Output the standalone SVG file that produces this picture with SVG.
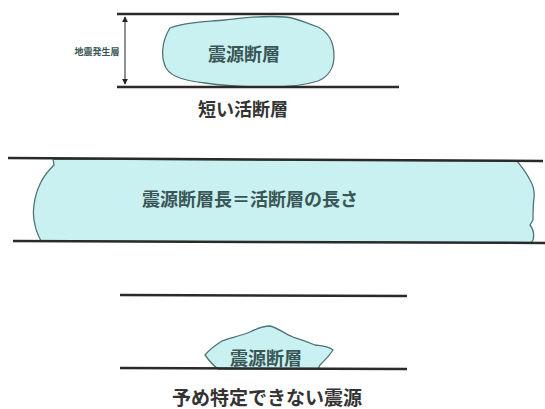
<svg xmlns="http://www.w3.org/2000/svg" width="545" height="409" viewBox="0 0 545 409">
<defs>
<style>
.layer{stroke:#2a2a2a;stroke-width:2.5;fill:none}
.blob{fill:#c9f1f1;stroke:#4f7474;stroke-width:1.3;stroke-linejoin:round}
.t{font-family:"Noto Sans CJK JP","Noto Sans CJK SC",sans-serif;font-weight:bold;text-anchor:middle;dominant-baseline:central}
.in{fill:#3a5656}
.cap{fill:#333}
</style>
<marker id="ah" viewBox="0 0 8 8" refX="7" refY="4" markerWidth="6" markerHeight="6" orient="auto-start-reverse">
<path d="M0,0 L8,4 L0,8 z" fill="#222"/>
</marker>
</defs>
<rect width="545" height="409" fill="#fff"/>

<g id="short-fault">
<path class="blob" d="M170,28 C185,22 205,22 225,20 C245,18 260,15 285,17 C298,18 305,23 318,27 C330,33 334,45 334,56 C334,68 328,77 318,81 C305,85 290,87 270,87 C250,87 225,86 205,83 C188,81 172,78 166,68 C161,58 161,42 170,28 Z"/>
<line class="layer" x1="117" y1="14" x2="399" y2="14"/>
<line class="layer" x1="117" y1="87" x2="399" y2="87"/>
<line x1="125" y1="17" x2="125" y2="84" stroke="#222" stroke-width="1" marker-start="url(#ah)" marker-end="url(#ah)"/>
<text class="t in" x="97" y="51" font-size="9">地震発生層</text>
<text class="t in" x="244" y="53" font-size="18">震源断層</text>
<text class="t cap" x="243" y="108" font-size="18">短い活断層</text>
</g>

<g id="long-fault">
<path class="blob" d="M53,159 L517,161 C521,166 526,172 530,180 C533,185 535,190 534,198 C533,205 533,213 533,220 L530,225 C533,229 535,233 533,240 L531,243 L41,241 C39,237 36,231 35,225 C33,218 33,212 34,205 C35,196 38,188 41,182 C44,176 48,171 54,165 Z"/>
<line class="layer" x1="8" y1="158" x2="543" y2="161"/>
<line class="layer" x1="13" y1="241" x2="545" y2="243"/>
<text class="t in" x="250" y="198" font-size="18">震源断層長＝活断層の長さ</text>
</g>

<g id="unknown-source">
<line class="layer" x1="120" y1="295" x2="407" y2="296"/>
<path class="blob" d="M218,369 C214,366 210,362 205,355 C209,350 214,346 222,341 C230,338 240,336 250,332 C256,329 263,326 270,326 C278,328 285,334 293,337 C300,339 308,342 315,345 C322,346 328,346 333,350 C330,355 325,360 320,365 L318,369 Z"/>
<line class="layer" x1="120" y1="368" x2="407" y2="369"/>
<text class="t in" x="266" y="357" font-size="18">震源断層</text>
<text class="t cap" x="267" y="396" font-size="19">予め特定できない震源</text>
</g>
</svg>
